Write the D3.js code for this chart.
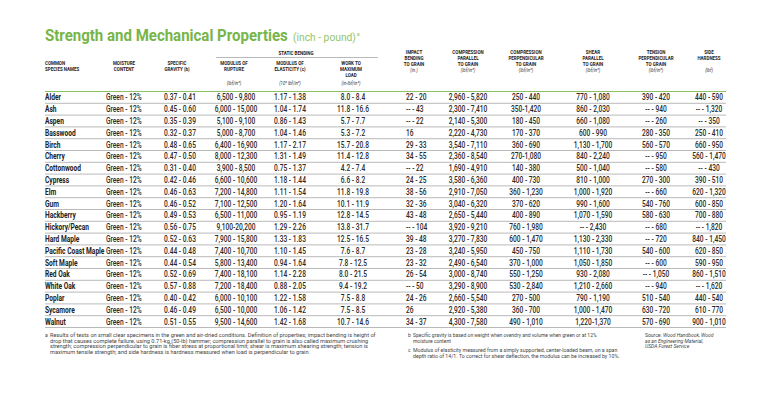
<!DOCTYPE html>
<html>
<head>
<meta charset="utf-8">
<script src="https://cdn.jsdelivr.net/npm/d3@7"></script>
<style>
  body { margin: 0; background: #fff; }
  svg text { font-family: Roboto, "Liberation Sans", sans-serif; }
</style>
</head>
<body>
<svg id="chart" width="768" height="402"></svg>
<script>
// table values, one array per column
const species = ["Alder", "Ash", "Aspen", "Basswood", "Birch", "Cherry", "Cottonwood", "Cypress", "Elm", "Gum",
  "Hackberry", "Hickory/Pecan", "Hard Maple", "Pacific Coast Maple", "Soft Maple", "Red Oak", "White Oak",
  "Poplar", "Sycamore", "Walnut"]
const moisture = ["Green - 12%", "Green - 12%", "Green - 12%", "Green - 12%", "Green - 12%", "Green - 12%",
  "Green - 12%", "Green - 12%", "Green - 12%", "Green - 12%", "Green - 12%", "Green - 12%", "Green - 12%",
  "Green - 12%", "Green - 12%", "Green - 12%", "Green - 12%", "Green - 12%", "Green - 12%", "Green - 12%"]
const gravity = ["0.37 - 0.41", "0.45 - 0.60", "0.35 - 0.39", "0.32 - 0.37", "0.48 - 0.65", "0.47 - 0.50",
  "0.31 - 0.40", "0.42 - 0.46", "0.46 - 0.63", "0.46 - 0.52", "0.49 - 0.53", "0.56 - 0.75", "0.52 - 0.63",
  "0.44 - 0.48", "0.44 - 0.54", "0.52 - 0.69", "0.57 - 0.88", "0.40 - 0.42", "0.46 - 0.49", "0.51 - 0.55"]
const rupture = ["6,500 - 9,800", "6,000 - 15,000", "5,100 - 9,100", "5,000 - 8,700", "6,400 - 16,900",
  "8,000 - 12,300", "3,900 - 8,500", "6,600 - 10,600", "7,200 - 14,800", "7,100 - 12,500", "6,500 - 11,000",
  "9,100-20,200", "7,900 - 15,800", "7,400 - 10,700", "5,800 - 13,400", "7,400 - 18,100", "7,200 - 18,400",
  "6,000 - 10,100", "6,500 - 10,000", "9,500 - 14,600"]
const elasticity = ["1.17 - 1.38", "1.04 - 1.74", "0.86 - 1.43", "1.04 - 1.46", "1.17 - 2.17", "1.31 - 1.49",
  "0.75 - 1.37", "1.18 - 1.44", "1.11 - 1.54", "1.20 - 1.64", "0.95 - 1.19", "1.29 - 2.26", "1.33 - 1.83",
  "1.10 - 1.45", "0.94 - 1.64", "1.14 - 2.28", "0.88 - 2.05", "1.22 - 1.58", "1.06 - 1.42", "1.42 - 1.68"]
const workLoad = ["8.0 - 8.4", "11.8 - 16.6", "5.7 - 7.7", "5.3 - 7.2", "15.7 - 20.8", "11.4 - 12.8", "4.2 - 7.4",
  "6.6 - 8.2", "11.8 - 19.8", "10.1 - 11.9", "12.8 - 14.5", "13.8 - 31.7", "12.5 - 16.5", "7.6 - 8.7",
  "7.8 - 12.5", "8.0 - 21.5", "9.4 - 19.2", "7.5 - 8.8", "7.5 - 8.5", "10.7 - 14.6"]
const impact = ["22 - 20", "-- - 43", "-- - 22", "16", "29 - 33", "34 - 55", "-- - 22", "24 - 25", "38 - 56",
  "32 - 36", "43 - 48", "-- - 104", "39 - 48", "23 - 28", "23 - 32", "26 - 54", "-- - 50", "24 - 26", "26",
  "34 - 37"]
const compParallel = ["2,960 - 5,820", "2,300 - 7,410", "2,140 - 5,300", "2,220 - 4,730", "3,540 - 7,110",
  "2,360 - 8,540", "1,690 - 4,910", "3,580 - 6,360", "2,910 - 7,050", "3,040 - 6,320", "2,650 - 5,440",
  "3,920 - 9,210", "3,270 - 7,830", "3,240 - 5,950", "2,490 - 6,540", "3,000 - 8,740", "3,290 - 8,900",
  "2,660 - 5,540", "2,920 - 5,380", "4,300 - 7,580"]
const compPerp = ["250 - 440", "350-1,420", "180 - 450", "170 - 370", "360 - 690", "270-1,080", "140 - 380",
  "400 - 730", "360 - 1,230", "370 - 620", "400 - 890", "760 - 1,980", "600 - 1,470", "450 - 750",
  "370 - 1,000", "550 - 1,250", "530 - 2,840", "270 - 500", "360 - 700", "490 - 1,010"]
const shear = ["770 - 1,080", "860 - 2,030", "660 - 1,080", "600 - 990", "1,130 - 1,700", "840 - 2,240",
  "500 - 1,040", "810 - 1,000", "1,000 - 1,920", "990 - 1,600", "1,070 - 1,590", "-- - 2,430", "1,130 - 2,330",
  "1,110 - 1,730", "1,050 - 1,850", "930 - 2,080", "1,210 - 2,660", "790 - 1,190", "1,000 - 1,470", "1,220-1,370"]
const tension = ["390 - 420", "-- - 940", "-- - 260", "280 - 350", "560 - 570", "-- - 950", "-- - 580",
  "270 - 300", "-- - 660", "540 - 760", "580 - 630", "-- - 680", "-- - 720", "540 - 600", "-- - 600",
  "-- - 1,050", "-- - 940", "510 - 540", "630 - 720", "570 - 690"]
const hardness = ["440 - 590", "-- - 1,320", "-- - 350", "250 - 410", "660 - 950", "560 - 1,470", "-- - 430",
  "390 - 510", "620 - 1,320", "600 - 850", "700 - 880", "-- - 1,820", "840 - 1,450", "620 - 850", "590 - 950",
  "860 - 1,510", "-- - 1,620", "440 - 540", "610 - 770", "900 - 1,010"]

const footA = ["Results of tests on small clear specimens in the green and air-dried conditions. Definition of properties; impact bending is height of",
  "drop that causes complete failure, using 0.71-kg (50-lb) hammer; compression parallel to grain is also called maximum crushing",
  "strength; compression perpendicular to grain is fiber stress at proportional limit; shear is maximum shearing strength; tension is",
  "maximum tensile strength; and side hardness is hardness measured when load is perpendicular to grain."]
const footB = ["Specific gravity is based on weight when ovendry and volume when green or at 12%", "moisture content"]
const footC = ["Modulus of elasticity measured from a simply supported, center-loaded beam, on a span",
  "depth ratio of 14/1. To correct for shear deflection, the modulus can be increased by 10%."]

// layout of the columns (x, header lines)
const columns = [
  {values: species, x: 45, hx: 45, anchor: "start", head: ["COMMON", "SPECIES NAMES"], top: 65},
  {values: moisture, x: 106, hx: 124, anchor: "start", head: ["MOISTURE", "CONTENT"], top: 65},
  {values: gravity, x: 180, hx: 177, head: ["SPECIFIC", "GRAVITY (b)"], top: 65},
  {values: rupture, x: 236, hx: 234, head: ["MODULUS OF", "RUPTURE"], top: 65, unit: "(lbf/in²)"},
  {values: elasticity, x: 290, hx: 290, head: ["MODULUS OF", "ELASTICITY (c)"], top: 65, unit: "(10⁶ lbf/in²)"},
  {values: workLoad, x: 353, hx: 351, head: ["WORK TO", "MAXIMUM", "LOAD"], top: 65, unit: "(in-lbf/in³)"},
  {values: impact, x: 406, hx: 414, anchor: "start", head: ["IMPACT", "BENDING", "TO GRAIN"], top: 54, unit: "(in.)", unitY: 72},
  {values: compParallel, x: 468, hx: 468, head: ["COMPRESSION", "PARALLEL", "TO GRAIN"], top: 54, unit: "(lbf/in²)", unitY: 72},
  {values: compPerp, x: 526, hx: 526, head: ["COMPRESSION", "PERPENDICULAR", "TO GRAIN"], top: 54, unit: "(lbf/in²)", unitY: 72},
  {values: shear, x: 593, hx: 593, head: ["SHEAR", "PARALLEL", "TO GRAIN"], top: 54, unit: "(lbf/in²)", unitY: 72},
  {values: tension, x: 656, hx: 656, head: ["TENSION", "PERPENDICULAR", "TO GRAIN"], top: 54, unit: "(lbf/in²)", unitY: 72},
  {values: hardness, x: 709, hx: 709, head: ["SIDE", "HARDNESS"], top: 54, unit: "(lbf)", unitY: 72}
]

const svg = d3.select("#chart")
const left = 45, right = 726
const squeeze = 0.8   // the original face is a condensed one

// fit a group of text lines to a target width by changing the font size
function fitWidth(sel, target){
  let w = d3.max(sel.nodes(), n => n.getComputedTextLength())
  let fs = parseFloat(sel.attr("font-size"))
  sel.attr("font-size", fs * target / w)
}

// title, squeezed sideways to the width of the original
let title = svg.append("text").attr("font-size", 17).attr("font-weight", 700).attr("fill", "#78b548")
  .text("Strength and Mechanical Properties")
let tw = title.node().getComputedTextLength()
title.attr("transform", `translate(${left},41) scale(${243 / tw},1)`)
let sub = svg.append("text").attr("font-size", 11.5).attr("fill", "#93c46c")
sub.append("tspan").text("(inch - pound)")
let sw = sub.node().getComputedTextLength()
sub.attr("transform", `translate(293,41) scale(${63 / sw},1)`)
sub.append("tspan").attr("font-size", 6).attr("dy", -5).attr("dx", 1).text("a")

// rows
let y = d3.scaleBand().domain(species).range([91.5, 327.5])

// static bending banner
svg.append("text").attr("transform", "translate(296,54.5) scale(0.8,1)").attr("text-anchor", "middle")
  .attr("font-size", 5.6).attr("font-weight", 700).attr("fill", "#222")
  .text("STATIC BENDING")
svg.append("line").attr("x1", 216).attr("x2", 378).attr("y1", 57.5).attr("y2", 57.5)
  .attr("stroke", "#888").attr("stroke-width", 0.6)

// headers
columns.forEach(c => {
  let anchor = c.anchor == "start" && c.x == c.hx ? "start" : "middle"
  let g = svg.append("g")
  g.selectAll("text.h").data(c.head).enter().append("text")
    .attr("transform", (d, i) => `translate(${c.hx},${c.top + i * 6}) scale(${squeeze},1)`)
    .attr("text-anchor", anchor)
    .attr("font-size", 5.6).attr("font-weight", 700).attr("fill", "#222")
    .text(d => d)
  if (c.unit){
    g.append("text").attr("transform", `translate(${c.hx},${c.unitY || 85}) scale(${squeeze},1)`)
      .attr("text-anchor", anchor).attr("font-size", 5.4).attr("font-style", "italic").attr("fill", "#333")
      .text(c.unit)
  }
})

// green rule under header
svg.append("line").attr("x1", left).attr("x2", right).attr("y1", y.range()[0]).attr("y2", y.range()[0])
  .attr("stroke", "#8dc05f").attr("stroke-width", 1.2)

// row separators
svg.selectAll("line.sep").data(species).enter().append("line")
  .attr("class", "sep")
  .attr("x1", left).attr("x2", right)
  .attr("y1", d => y(d) + y.step()).attr("y2", d => y(d) + y.step())
  .attr("stroke", "#8a8a8a").attr("stroke-width", 0.6)

// cells
columns.forEach((c, ci) => {
  svg.append("g").selectAll("text").data(c.values).enter().append("text")
    .attr("transform", (d, i) => `translate(${c.x},${y(species[i]) + y.bandwidth() / 2}) scale(${squeeze},1)`)
    .attr("dy", "0.36em")
    .attr("text-anchor", c.anchor || "middle")
    .attr("font-size", 8.3)
    .attr("font-weight", ci == 0 ? 700 : 500)
    .attr("fill", ci == 0 ? "#222" : "#2a2a2a")
    .text(d => d)
})

// footnotes
function note(lines, x, y0, mark, target){
  let g = svg.append("g")
  if (mark) g.append("text").attr("x", x - 5).attr("y", y0).attr("font-size", 5).attr("fill", "#444").text(mark)
  let t = g.selectAll("text.l").data(lines).enter().append("text")
    .attr("class", "l").attr("x", x).attr("y", (d, i) => y0 + i * 5.6)
    .attr("font-size", 5).attr("fill", "#444").text(d => d)
  fitWidth(t, target)
  return t
}
note(footA, 50, 337, "a", 327)
note(footB, 413, 337, "b", 184)
note(footC, 413, 352, "c", 207)

let src = svg.append("g").attr("font-size", 5).attr("fill", "#444")
let s1 = src.append("text").attr("x", 645).attr("y", 337)
s1.append("tspan").text("Source: ")
s1.append("tspan").attr("font-style", "italic").text("Wood Handbook, Wood")
src.append("text").attr("x", 645).attr("y", 342.6).attr("font-style", "italic").text("as an Engineering Material,")
src.append("text").attr("x", 645).attr("y", 348.2).attr("font-style", "italic").text("USDA Forest Service")
</script>
</body>
</html>
